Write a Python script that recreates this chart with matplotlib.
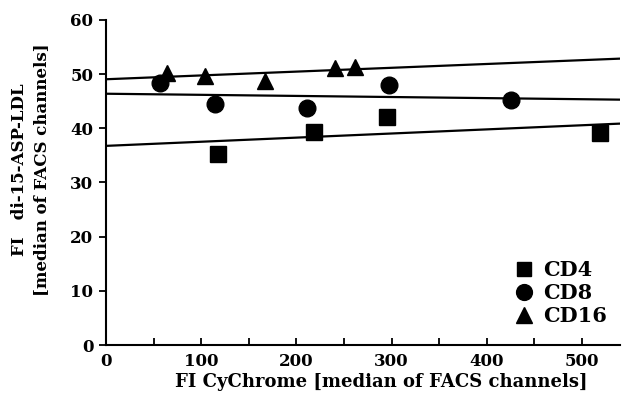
import numpy as np
import matplotlib
matplotlib.use("Agg")
import matplotlib.pyplot as plt

# Data
cd4_x = [117.6, 218.9, 294.7, 519.0]
cd4_y = [35.2, 39.4, 42.1, 39.1]
cd8_x = [56.6, 114.2, 210.9, 297.5, 425.0]
cd8_y = [48.3, 44.4, 43.7, 48.0, 45.3]
cd16_x = [63.6, 104.0, 167.3, 240.6, 261.5]
cd16_y = [50.3, 49.6, 48.8, 51.2, 51.3]
labels = ["CD4", "CD8", "CD16"]
x_ticks = [0, 100, 200, 300, 400, 500]
y_ticks = [0, 10, 20, 30, 40, 50, 60]

plt.rcParams['font.family'] = ['DejaVu Serif']
plt.rcParams['font.weight'] = 'bold'

fig = plt.figure(figsize=(6.22, 4.03), dpi=100)
ax = fig.add_axes([0.1704, 0.1439, 0.8266, 0.8065])

XMAX = 540
series = [(cd4_x, cd4_y, 's', 11), (cd8_x, cd8_y, 'o', 12), (cd16_x, cd16_y, '^', 12)]
for (xs, ys, m, ms), lab in zip(series, labels):
    ax.plot(xs, ys, linestyle='none', marker=m, markersize=ms, color='black', label=lab)
    k, b = np.polyfit(xs, ys, 1)
    xx = np.array([0, XMAX])
    ax.plot(xx, k * xx + b, color='black', linewidth=1.6, zorder=1)

ax.set_xlim(0, XMAX)
ax.set_ylim(0, 60)
ax.set_xticks(x_ticks)
ax.set_xticks(np.arange(50, XMAX, 100), minor=True)
ax.set_yticks(y_ticks)
for s in ['top', 'right']:
    ax.spines[s].set_visible(False)
for s in ['left', 'bottom']:
    ax.spines[s].set_linewidth(1.5)
ax.tick_params(axis='y', direction='out', length=5, width=1.3, labelsize=12, pad=4)
ax.tick_params(axis='x', which='both', direction='in', length=5, width=1.3, labelsize=12, pad=6)
for t in ax.get_xticklabels() + ax.get_yticklabels():
    t.set_fontweight('bold')

ax.set_xlabel("FI CyChrome [median of FACS channels]", fontsize=13, fontweight='bold', labelpad=3)
ax.xaxis.set_label_coords(0.535, -0.085)
ax.set_ylabel("FI   di-15-ASP-LDL\n[median of FACS channels]", fontsize=12, fontweight='bold', linespacing=1.4)
ax.yaxis.set_label_coords(-0.108, 0.54)

leg = ax.legend(loc='lower right', bbox_to_anchor=(1.01, 0.0), frameon=False,
                prop={'size': 15, 'weight': 'bold'}, handlelength=1.0, handletextpad=0.4,
                labelspacing=0.15, markerscale=0.95)

fig.savefig("out.png", dpi=100)
